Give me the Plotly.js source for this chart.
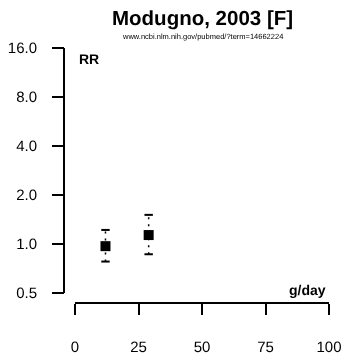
<!DOCTYPE html>
<html>
<head>
<meta charset="utf-8">
<script src="https://cdn.plot.ly/plotly-3.0.1.min.js"></script>
<style>html,body{margin:0;padding:0;background:#fff;}#chart{width:346px;height:364px;}
#chart svg text{text-rendering:geometricPrecision;}
#chart .svg-container{will-change:transform;}</style>
</head>
<body>
<div id="chart"></div>
<script>
// Data
var doseX = [12, 29];            // g/day
var rr = [0.97, 1.135];          // relative risk
var rrLow = [0.78, 0.865];
var rrHigh = [1.22, 1.51];

var xTickVals = [0, 25, 50, 75, 100];
var xTickText = ['0', '25', '50', '75', '100'];
var yTickVals = [0.5, 1, 2, 4, 8, 16];
var yTickText = ['0.5', '1.0', '2.0', '4.0', '8.0', '16.0'];

var titleText = '<b>Modugno, 2003 [F]</b>';
var subtitleText = 'www.ncbi.nlm.nih.gov/pubmed/?term=14662224';

var font = 'Liberation Sans, Arial, Helvetica, sans-serif';

// Layout geometry (pixels)
var W = 346, H = 364;
var L = 40, R = 8, T = 40, B = 40;
var pw = W - L - R, ph = H - T - B;
var xStart = 75, xEnd = 329;     // x axis extent
var yTop = 48, yBottom = 293;    // y axis extent
var axisX = 64, axisY = 303;     // detached axis positions
var xDom = [(xStart - L) / pw, (xEnd - L) / pw];
var yDom = [(H - B - yBottom) / ph, (H - B - yTop) / ph];
function px(v) { return (v - L) / pw; }        // pixel x -> paper
function py(v) { return (H - B - v) / ph; }    // pixel y -> paper

// Build error-bar segments from the arrays
var segX = [], segY = [], capX = [], capY = [];
for (var i = 0; i < doseX.length; i++) {
  segX.push(doseX[i], doseX[i], null);
  segY.push(rrLow[i], rrHigh[i], null);
  capX.push(doseX[i], doseX[i]);
  capY.push(rrLow[i], rrHigh[i]);
}

var traces = [
  // detached axis lines on a helper pixel-unit axis pair
  {x: [xStart, xEnd, null, axisX, axisX], y: [axisY, axisY, null, yBottom, yTop],
   xaxis: 'x2', yaxis: 'y2', mode: 'lines',
   line: {color: '#000', width: 2}, hoverinfo: 'skip', showlegend: false},
  {x: segX, y: segY, mode: 'lines', type: 'scatter',
   line: {color: '#000', width: 1.5, dash: '2px,5px'}, hoverinfo: 'skip', showlegend: false},
  {x: capX, y: capY, mode: 'markers', type: 'scatter',
   marker: {symbol: 'line-ew', size: 6, line: {color: '#000', width: 2}}, hoverinfo: 'skip', showlegend: false},
  {x: doseX, y: rr, mode: 'markers', type: 'scatter',
   marker: {symbol: 'square', size: 10, color: '#000'}, showlegend: false}
];

var layout = {
  width: W, height: H,
  margin: {l: L, r: R, t: T, b: B, pad: 0},
  paper_bgcolor: '#fff', plot_bgcolor: 'rgba(0,0,0,0)',
  font: {family: font, color: '#000', size: 15},
  showlegend: false,
  xaxis: {
    domain: xDom,
    anchor: 'free', position: py(axisY),
    range: [xTickVals[0], xTickVals[xTickVals.length - 1]],
    tickvals: xTickVals, ticktext: xTickText,
    ticks: 'outside', ticklen: 11, tickwidth: 2, tickcolor: '#000',
    showline: false,
    showgrid: false, zeroline: false,
    ticklabelstandoff: 19,
    tickfont: {size: 15, family: font}
  },
  yaxis: {
    domain: yDom,
    anchor: 'free', position: px(axisX),
    type: 'log',
    range: [Math.log10(yTickVals[0]), Math.log10(yTickVals[yTickVals.length - 1])],
    tickvals: yTickVals, ticktext: yTickText,
    ticks: 'outside', ticklen: 12, tickwidth: 2, tickcolor: '#000',
    showline: false,
    showgrid: false, zeroline: false,
    ticklabelstandoff: 12,
    tickfont: {size: 15, family: font}
  },
  xaxis2: {domain: [0, 1], anchor: 'y2', range: [L, W - R], visible: false, showgrid: false, zeroline: false},
  yaxis2: {domain: [0, 1], anchor: 'x2', range: [H - B, T], visible: false, showgrid: false, zeroline: false},
  annotations: [
    {text: titleText, xref: 'paper', yref: 'paper', x: px(202), y: py(17),
     xanchor: 'center', yanchor: 'middle', showarrow: false, font: {size: 20.5, family: font, color: '#000'}},
    {text: subtitleText, xref: 'paper', yref: 'paper', x: px(202), y: py(37),
     xanchor: 'center', yanchor: 'middle', showarrow: false, font: {size: 7.5, family: font, color: '#000'}},
    {text: '<b>RR</b>', xref: 'paper', yref: 'paper', x: px(77), y: py(59),
     xanchor: 'left', yanchor: 'middle', showarrow: false, font: {size: 14, family: font}},
    {text: '<b>g/day</b>', xref: 'paper', yref: 'paper', x: px(328), y: py(290),
     xanchor: 'right', yanchor: 'middle', showarrow: false, font: {size: 14, family: font}}
  ]
};

Plotly.newPlot('chart', traces, layout, {staticPlot: true, displayModeBar: false});
</script>
</body>
</html>
